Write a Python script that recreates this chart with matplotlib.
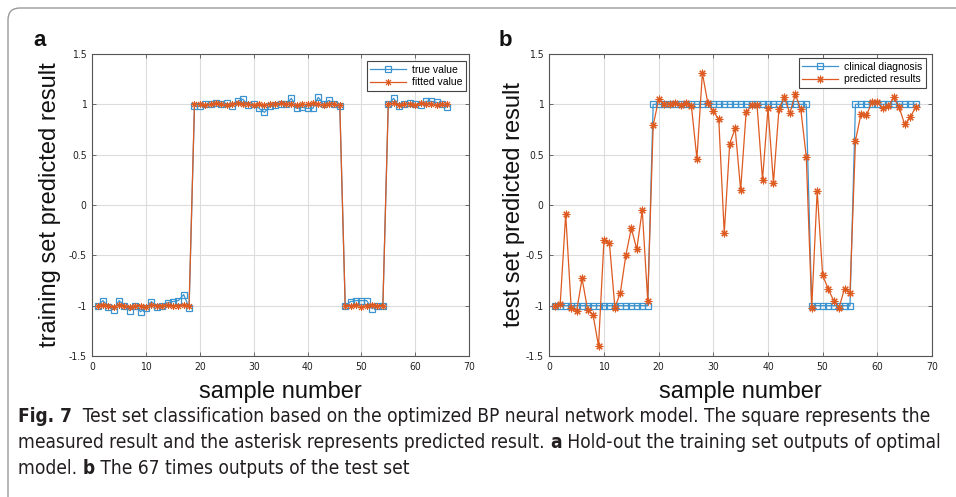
import matplotlib
matplotlib.use('Agg')
import matplotlib.pyplot as plt
from matplotlib.patches import FancyBboxPatch
from matplotlib.transforms import IdentityTransform
from matplotlib.font_manager import fontManager

# ---------------- data ----------------
train_x = list(range(1, 67))
train_true = [
    -1.00, -0.95, -1.01, -1.04, -0.95, -1.00, -1.05, -1.00, -1.06, -1.02, -0.96, -1.01,
    -1.00, -0.97, -0.96, -0.95, -0.89, -1.02,
    0.98, 0.98, 1.00, 1.00, 1.01, 1.00, 1.01, 0.98, 1.03, 1.05, 0.99, 1.00, 0.96, 0.92,
    0.98, 0.99, 1.00, 1.00, 1.06, 0.96, 0.97, 0.96, 0.96, 1.07, 1.00, 1.04, 1.00, 0.98,
    -1.00, -0.96, -0.95, -0.95, -0.95, -1.03, -1.00, -1.00,
    1.00, 1.06, 0.98, 1.00, 1.01, 1.00, 0.99, 1.03, 1.03, 1.02, 1.00, 0.97,
]
train_fit = [
    -1.00, -0.99, -1.00, -1.01, -0.99, -1.00, -1.01, -1.00, -1.00, -1.01, -0.99, -1.00,
    -1.00, -0.99, -1.00, -1.00, -0.99, -1.00,
    1.00, 1.00, 0.99, 1.00, 1.01, 1.00, 0.99, 1.00, 1.01, 1.00, 1.00, 0.99, 1.00, 0.99,
    1.00, 1.00, 1.01, 1.00, 1.00, 0.99, 1.00, 1.00, 1.01, 1.00, 0.99, 1.00, 1.00, 0.99,
    -1.00, -1.00, -0.99, -1.01, -1.00, -0.99, -1.00, -1.00,
    1.00, 1.01, 0.99, 1.00, 1.00, 0.99, 1.01, 1.00, 1.00, 0.99, 1.00, 1.00,
]

test_x = list(range(1, 68))
test_true = [
    -1, -1, -1, -1, -1, -1, -1, -1, -1, -1, -1, -1, -1, -1, -1, -1, -1, -1,
    1, 1, 1, 1, 1, 1, 1, 1, 1, 1, 1, 1, 1, 1, 1, 1, 1, 1, 1, 1, 1, 1, 1, 1, 1, 1, 1, 1, 1,
    -1, -1, -1, -1, -1, -1, -1, -1,
    1, 1, 1, 1, 1, 1, 1, 1, 1, 1, 1, 1,
]
test_pred = [
    -1.00, -0.98, -0.09, -1.02, -1.05, -0.73, -1.04, -1.09, -1.40, -0.35, -0.38, -1.02,
    -0.87, -0.50, -0.23, -0.44, -0.05, -0.95,
    0.79, 1.05, 1.00, 1.00, 1.01, 0.99, 1.01, 0.98, 0.46, 1.31, 1.01, 0.93, 0.85, -0.28,
    0.61, 0.76, 0.15, 0.92, 0.99, 0.99, 0.25, 0.96, 0.22, 0.95, 1.07, 0.91, 1.10, 0.95, 0.48,
    -1.02, 0.14, -0.70, -0.83, -0.95, -1.02, -0.83, -0.87,
    0.64, 0.90, 0.89, 1.02, 1.02, 0.96, 0.98, 1.07, 0.97, 0.80, 0.87, 0.97,
]

xticks = [0, 10, 20, 30, 40, 50, 60, 70]
yticks = [-1.5, -1, -0.5, 0, 0.5, 1, 1.5]
ytick_labels = ['-1.5', '-1', '-0.5', '0', '0.5', '1', '1.5']

# ---------------- style ----------------
BLUE = '#3b94cf'
ORANGE = '#dd5a20'
W, H = 956, 497
SANS = ['Liberation Sans', 'DejaVu Sans']

names = {f.name for f in fontManager.ttflist}
if 'DejaVu Sans Condensed' in names:
    COND = ['DejaVu Sans Condensed', 'DejaVu Sans']
    COND_STRETCH = 'normal'
else:
    COND = ['DejaVu Sans']
    COND_STRETCH = 'condensed'

fig = plt.figure(figsize=(W / 100, H / 100), dpi=100)


def fx(px):
    return px / W


def fy(py):
    return 1 - py / H


AST = (8, 2, 0)


def style_axes(ax):
    ax.set_xlim(0, 70)
    ax.set_ylim(-1.5, 1.5)
    ax.set_xticks(xticks)
    ax.set_yticks(yticks)
    ax.set_yticklabels(ytick_labels)
    ax.grid(True, color='#dcdcdc', lw=0.8)
    ax.set_axisbelow(True)
    for s in ax.spines.values():
        s.set_color('#555555')
        s.set_linewidth(0.8)
    ax.tick_params(direction='in', top=True, right=True, length=3, width=0.6,
                   colors='#555555', labelcolor='#222222', labelsize=7.5, pad=4)
    for lab in ax.get_xticklabels() + ax.get_yticklabels():
        lab.set_family(COND)
        lab.set_stretch(COND_STRETCH)


# panel a
ax_a = fig.add_axes([fx(92.2), fy(356), fx(469) - fx(92.2), (356 - 54) / H])
style_axes(ax_a)
ax_a.plot(train_x, train_true, color=BLUE, lw=0.9, marker='s', ms=4.2,
          mfc='none', mec=BLUE, mew=0.9, label='true value')
ax_a.plot(train_x, train_fit, color=ORANGE, lw=0.9, marker=AST, ms=5.0,
          mec=ORANGE, mew=0.7, label='fitted value')
leg = ax_a.legend(loc='upper right', bbox_to_anchor=(1 - 3 / 376.8, 1 - 7 / 302),
                  borderaxespad=0, fancybox=False, framealpha=1, edgecolor='#444444',
                  handlelength=3.4, numpoints=1, prop={'family': SANS, 'size': 7.5},
                  borderpad=0.35, labelspacing=0.25, handletextpad=0.6)
leg.get_frame().set_linewidth(0.8)

# panel b
ax_b = fig.add_axes([fx(549.3), fy(356), fx(932) - fx(549.3), (356 - 54) / H])
style_axes(ax_b)
ax_b.plot(test_x, test_true, color=BLUE, lw=0.9, marker='s', ms=4.2,
          mfc='none', mec=BLUE, mew=0.9, label='clinical diagnosis')
ax_b.plot(test_x, test_pred, color=ORANGE, lw=0.9, marker=AST, ms=5.5,
          mec=ORANGE, mew=0.8, label='predicted results')
leg = ax_b.legend(loc='upper right', bbox_to_anchor=(1 - 6 / 382.7, 1 - 4 / 302),
                  borderaxespad=0, fancybox=False, framealpha=1, edgecolor='#444444',
                  handlelength=3.4, numpoints=1, prop={'family': SANS, 'size': 7.5},
                  borderpad=0.35, labelspacing=0.25, handletextpad=0.6)
leg.get_frame().set_linewidth(0.8)

# axis labels
fig.text(fx(280.6), fy(392), 'sample number', ha='center', va='center',
         family=SANS, fontsize=17, color='#111111')
fig.text(fx(740.6), fy(392), 'sample number', ha='center', va='center',
         family=SANS, fontsize=17, color='#111111')
fig.text(fx(50), fy(205), 'training set predicted result', ha='center', va='center',
         rotation=90, family=SANS, fontsize=17, color='#111111')
fig.text(fx(514), fy(205), 'test set predicted result', ha='center', va='center',
         rotation=90, family=SANS, fontsize=17, color='#111111')

# panel letters
fig.text(fx(40), fy(40), 'a', ha='center', va='center', family=SANS,
         fontsize=16, weight='bold', color='#111111')
fig.text(fx(505), fy(40), 'b', ha='center', va='center', family=SANS,
         fontsize=16, weight='bold', color='#111111')

# border
border = FancyBboxPatch((8, -30), 1000, H - 8 + 30, boxstyle='round,pad=0,rounding_size=12',
                        transform=IdentityTransform(), fill=False, ec='#9a9a9a', lw=1.0)
fig.add_artist(border)

# caption
renderer = fig.canvas.get_renderer()
cap_lines = [
    [('Fig. 7', 'bold'), ('  Test set classification based on the optimized BP neural network model. The square represents the', 'normal')],
    [('measured result and the asterisk represents predicted result. ', 'normal'), ('a', 'bold'),
     (' Hold-out the training set outputs of optimal', 'normal')],
    [('model. ', 'normal'), ('b', 'bold'), (' The 67 times outputs of the test set', 'normal')],
]


def make_text(x, y, txt, size, wt):
    return fig.text(x, y, txt, family=COND, stretch=COND_STRETCH, fontsize=size,
                    weight=wt, va='baseline', ha='left', color='#231f20')


def line_width(parts, size):
    total = 0
    tmp = []
    for txt, wt in parts:
        t = make_text(0, 0, txt, size, wt)
        total += t.get_window_extent(renderer).width
        tmp.append(t)
    for t in tmp:
        t.remove()
    return total


base = 12
s1 = base * 924 / line_width(cap_lines[0], base)
s2 = base * 922 / line_width(cap_lines[1], base)
cap_size = min(s1, s2)
baselines = [422, 448, 474]
for parts, yb in zip(cap_lines, baselines):
    x = 18
    for txt, wt in parts:
        t = make_text(fx(x), fy(yb), txt, cap_size, wt)
        x += t.get_window_extent(renderer).width

fig.savefig('out.png', dpi=100)
